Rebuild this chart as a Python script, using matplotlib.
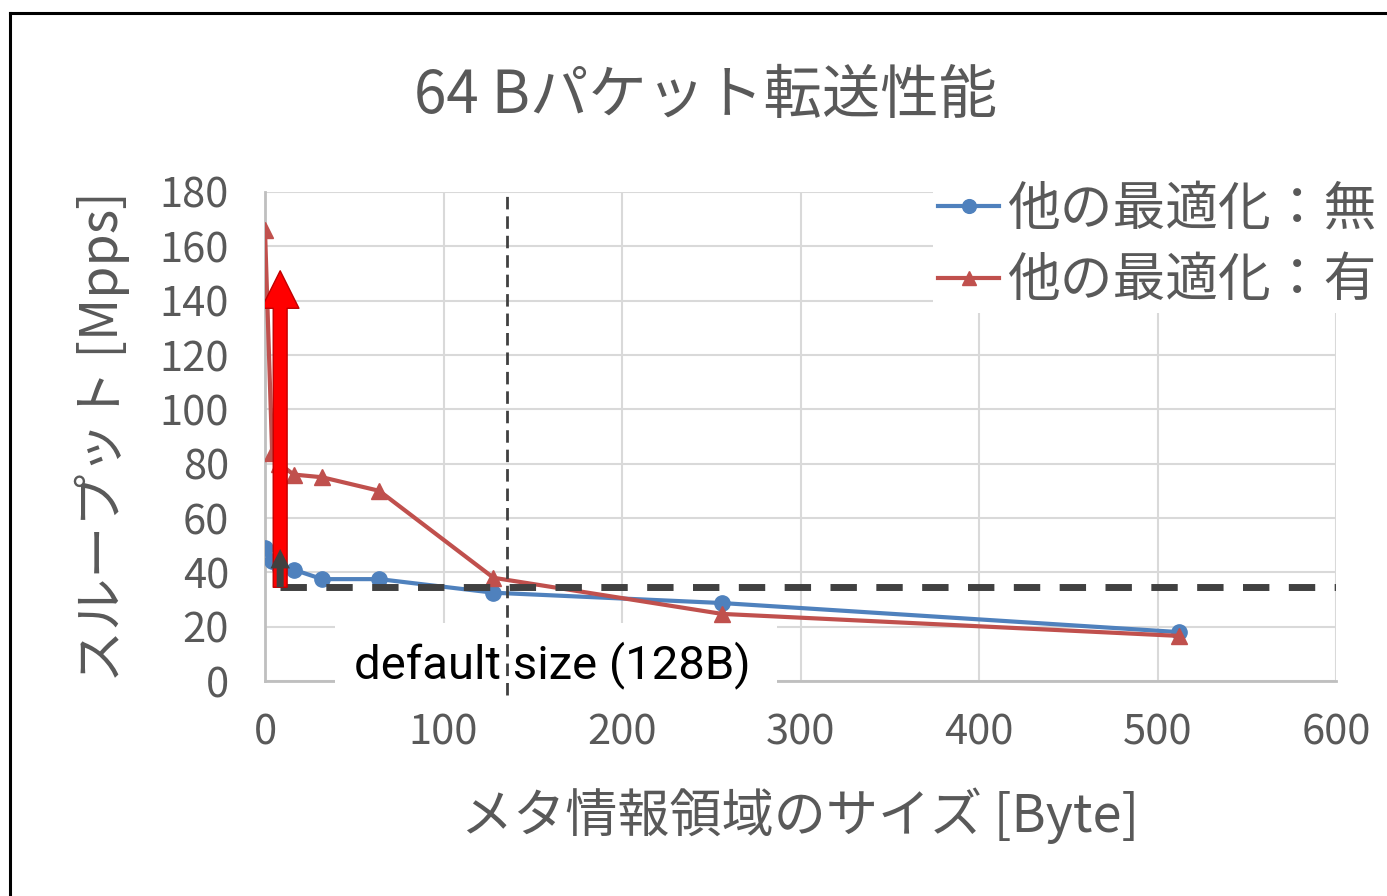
import matplotlib
matplotlib.use('Agg')
import matplotlib.pyplot as plt
from matplotlib.patches import Rectangle, FancyArrowPatch
from matplotlib.lines import Line2D

plt.rcParams['font.family'] = ['Noto Sans CJK JP', 'DejaVu Sans']
plt.rcParams['lines.scale_dashes'] = False

# data
meta_size = [0, 4, 8, 16, 32, 64, 128, 256, 512]
mpps_no_opt = [49, 44, 42.5, 41, 37.5, 37.5, 32.5, 28.7, 18]
mpps_opt = [166, 84, 80, 76, 75, 70, 38, 24.7, 16.6]
labels = ['他の最適化：無', '他の最適化：有']

baseline_mpps = 34.5   # horizontal dashed reference
arrow_x = 8.5
arrow_top = 151
small_arrow_top = 48.6
default_x = 135.5

x_ticks = [0, 100, 200, 300, 400, 500, 600]
y_ticks = [0, 20, 40, 60, 80, 100, 120, 140, 160, 180]

W, H = 1387, 896
fig = plt.figure(figsize=(W / 100, H / 100), dpi=100)
ax = fig.add_axes([265 / W, 1 - 681 / H, (1336 - 265) / W, (681 - 192) / H])

gray_txt = '#595959'
grid_c = '#d9d9d9'

ax.set_xlim(0, 600)
ax.set_ylim(0, 180)
ax.set_xticks(x_ticks)
ax.set_yticks(y_ticks)
ax.grid(True, color=grid_c, lw=1.5, zorder=0)
ax.set_axisbelow(True)
for s in ['top', 'right']:
    ax.spines[s].set_visible(False)
for s in ['left', 'bottom']:
    ax.spines[s].set_color('#bfbfbf')
    ax.spines[s].set_linewidth(2)
    ax.spines[s].set_zorder(1)
ax.tick_params(axis='both', length=0, labelsize=30, colors=gray_txt)
ax.tick_params(axis='y', pad=26)
ax.tick_params(axis='x', pad=23)

ax.set_xlabel('メタ情報領域のサイズ [Byte]', fontsize=37.5, color=gray_txt, labelpad=24)
ax.set_ylabel('スループット [Mpps]', fontsize=37.5, color=gray_txt, labelpad=21)

# series
ax.plot(meta_size, mpps_no_opt, color='#4f81bd', lw=3, marker='o', ms=11,
        label=labels[0], zorder=4)
ax.plot(meta_size, mpps_opt, color='#c0504d', lw=3, marker='^', ms=11,
        label=labels[1], zorder=4)

# text box covering the grid
ax.add_patch(Rectangle((39, -7), 248, 28.3, facecolor='white', edgecolor='none',
                       zorder=2, clip_on=False))
ax.text(161, 6.0, 'default size (128B)', fontsize=34, color='black',
        family=['Roboto', 'DejaVu Sans'], ha='center', va='center', zorder=3)

# reference lines
ax.plot([arrow_x, 600], [baseline_mpps, baseline_mpps], color='#404040', lw=5,
        linestyle=(0, (19, 14)), zorder=5)
ax.plot([default_x, default_x], [-5, 180], color='#404040', lw=2,
        linestyle=(0, (9, 5)), zorder=5, clip_on=False)

# arrows
big = FancyArrowPatch((arrow_x, baseline_mpps), (arrow_x, arrow_top),
                      arrowstyle='simple,head_length=0.5,head_width=0.5,tail_width=0.185',
                      mutation_scale=54, facecolor='#ff0000', edgecolor='#c00000',
                      lw=1, shrinkA=0, shrinkB=0, zorder=6)
ax.add_patch(big)
small = FancyArrowPatch((arrow_x, baseline_mpps), (arrow_x, small_arrow_top),
                        arrowstyle='simple,head_length=0.5,head_width=0.5,tail_width=0.18',
                        mutation_scale=28, facecolor='#404040', edgecolor='none',
                        shrinkA=0, shrinkB=0, zorder=7)
ax.add_patch(small)

leg = ax.legend(loc='upper left', bbox_to_anchor=(933 / W, 1 - 176 / H),
                bbox_transform=fig.transFigure, fontsize=38, frameon=True,
                fancybox=False, edgecolor='none', framealpha=1,
                handlelength=1.15, handletextpad=0.15, labelspacing=0.32,
                borderpad=0.1, borderaxespad=0, markerscale=0.9)
for t in leg.get_texts():
    t.set_color(gray_txt)
leg.set_zorder(8)

fig.text(705 / W, 1 - 97 / H, '64 Bパケット転送性能', fontsize=42, color=gray_txt,
         ha='center', va='center')

# chart border (cut at right/bottom in the reference)
fig.add_artist(Line2D([10 / W, 1], [1 - 13 / H, 1 - 13 / H], color='black', lw=2.2))
fig.add_artist(Line2D([10 / W, 10 / W], [0, 1 - 13 / H], color='black', lw=2.2))

fig.savefig('out.png', dpi=100)
